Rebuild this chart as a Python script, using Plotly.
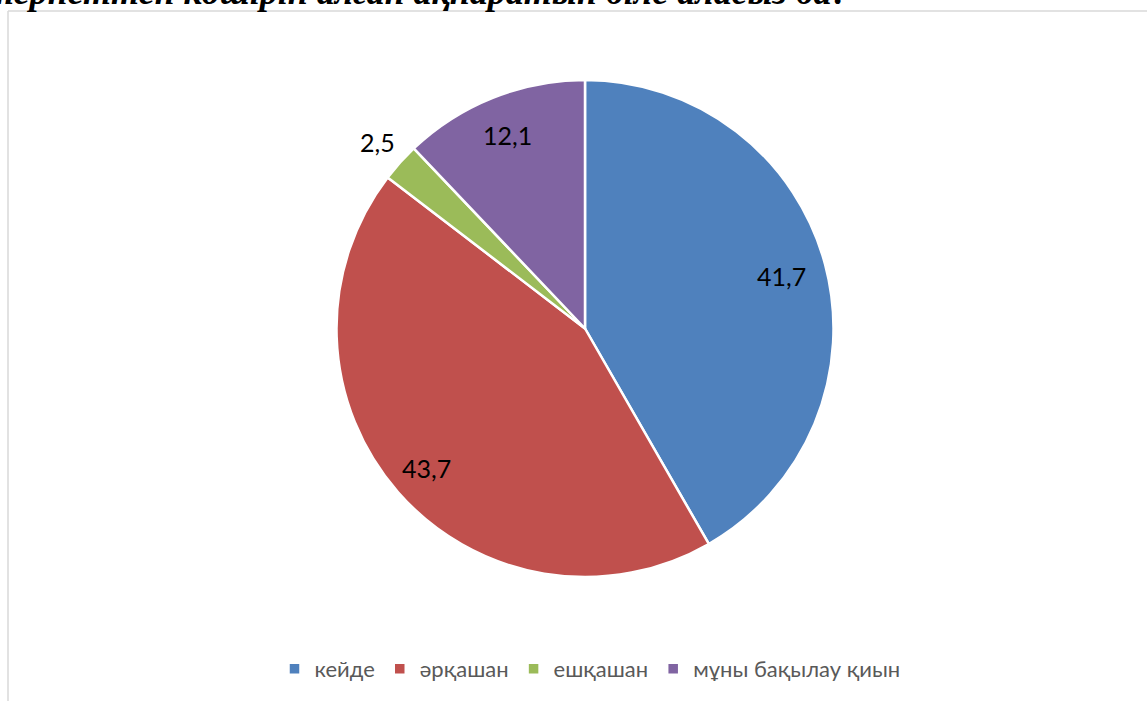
import math
import plotly.graph_objects as go

categories = ["кейде", "әрқашан", "ешқашан", "мұны бақылау қиын"]
values = [41.7, 43.7, 2.5, 12.1]
value_labels = ["41,7", "43,7", "2,5", "12,1"]
colors = ["#4F81BD", "#C0504D", "#9BBB59", "#8064A2"]
title_text = "интернеттен көшіріп алған ақпаратын біле аласыз ба?"

W, H = 1147, 701
# pie geometry in pixels (layout)
CX, CY, R = 585, 328.5, 248.5
label_radius = [0.82, 0.85, 1.12, 0.84]

fig = go.Figure()
fig.add_trace(go.Pie(
    labels=categories,
    values=values,
    textinfo="none",
    sort=False,
    direction="clockwise",
    rotation=0,
    marker=dict(colors=colors, line=dict(color="white", width=2.5)),
    domain=dict(x=[(CX - R) / W, (CX + R) / W], y=[1 - (CY + R) / H, 1 - (CY - R) / H]),
    hoverinfo="label+value",
))

# data labels placed at each slice's mid-angle
annotations = []
total = sum(values)
cum = 0.0
for v, lab, rf in zip(values, value_labels, label_radius):
    mid = (cum + v / 2) / total * 2 * math.pi
    cum += v
    px = CX + rf * R * math.sin(mid)
    py = CY - rf * R * math.cos(mid)
    annotations.append(dict(
        text=lab, xref="paper", yref="paper",
        x=px / W, y=1 - py / H, xanchor="center", yanchor="middle",
        showarrow=False,
        font=dict(family="Lato", size=25, color="black"),
    ))

annotations.append(dict(
    text="<b><i>" + title_text + "</i></b>",
    xref="paper", yref="paper",
    x=852 / W, xanchor="right",
    y=1 - 14 / H, yanchor="bottom",
    showarrow=False,
    font=dict(family="Liberation Serif", size=36, color="black"),
))

fig.update_layout(
    width=W, height=H,
    margin=dict(l=0, r=0, t=0, b=0),
    paper_bgcolor="white",
    plot_bgcolor="white",
    showlegend=True,
    legend=dict(
        orientation="h",
        x=590 / W, xanchor="center",
        y=1 - 669 / H, yanchor="middle",
        font=dict(family="Lato", size=22, color="#595959"),
        traceorder="normal",
    ),
    annotations=annotations,
    shapes=[
        dict(type="line", xref="paper", yref="paper",
             x0=8 / W, x1=1, y0=1 - 11 / H, y1=1 - 11 / H,
             line=dict(color="#D9D9D9", width=1.5)),
        dict(type="line", xref="paper", yref="paper",
             x0=8 / W, x1=8 / W, y0=0, y1=1 - 11 / H,
             line=dict(color="#D9D9D9", width=1.5)),
    ],
)

fig.write_html("out.html", config={"displayModeBar": False},
               post_script="document.body.style.margin='0';")
